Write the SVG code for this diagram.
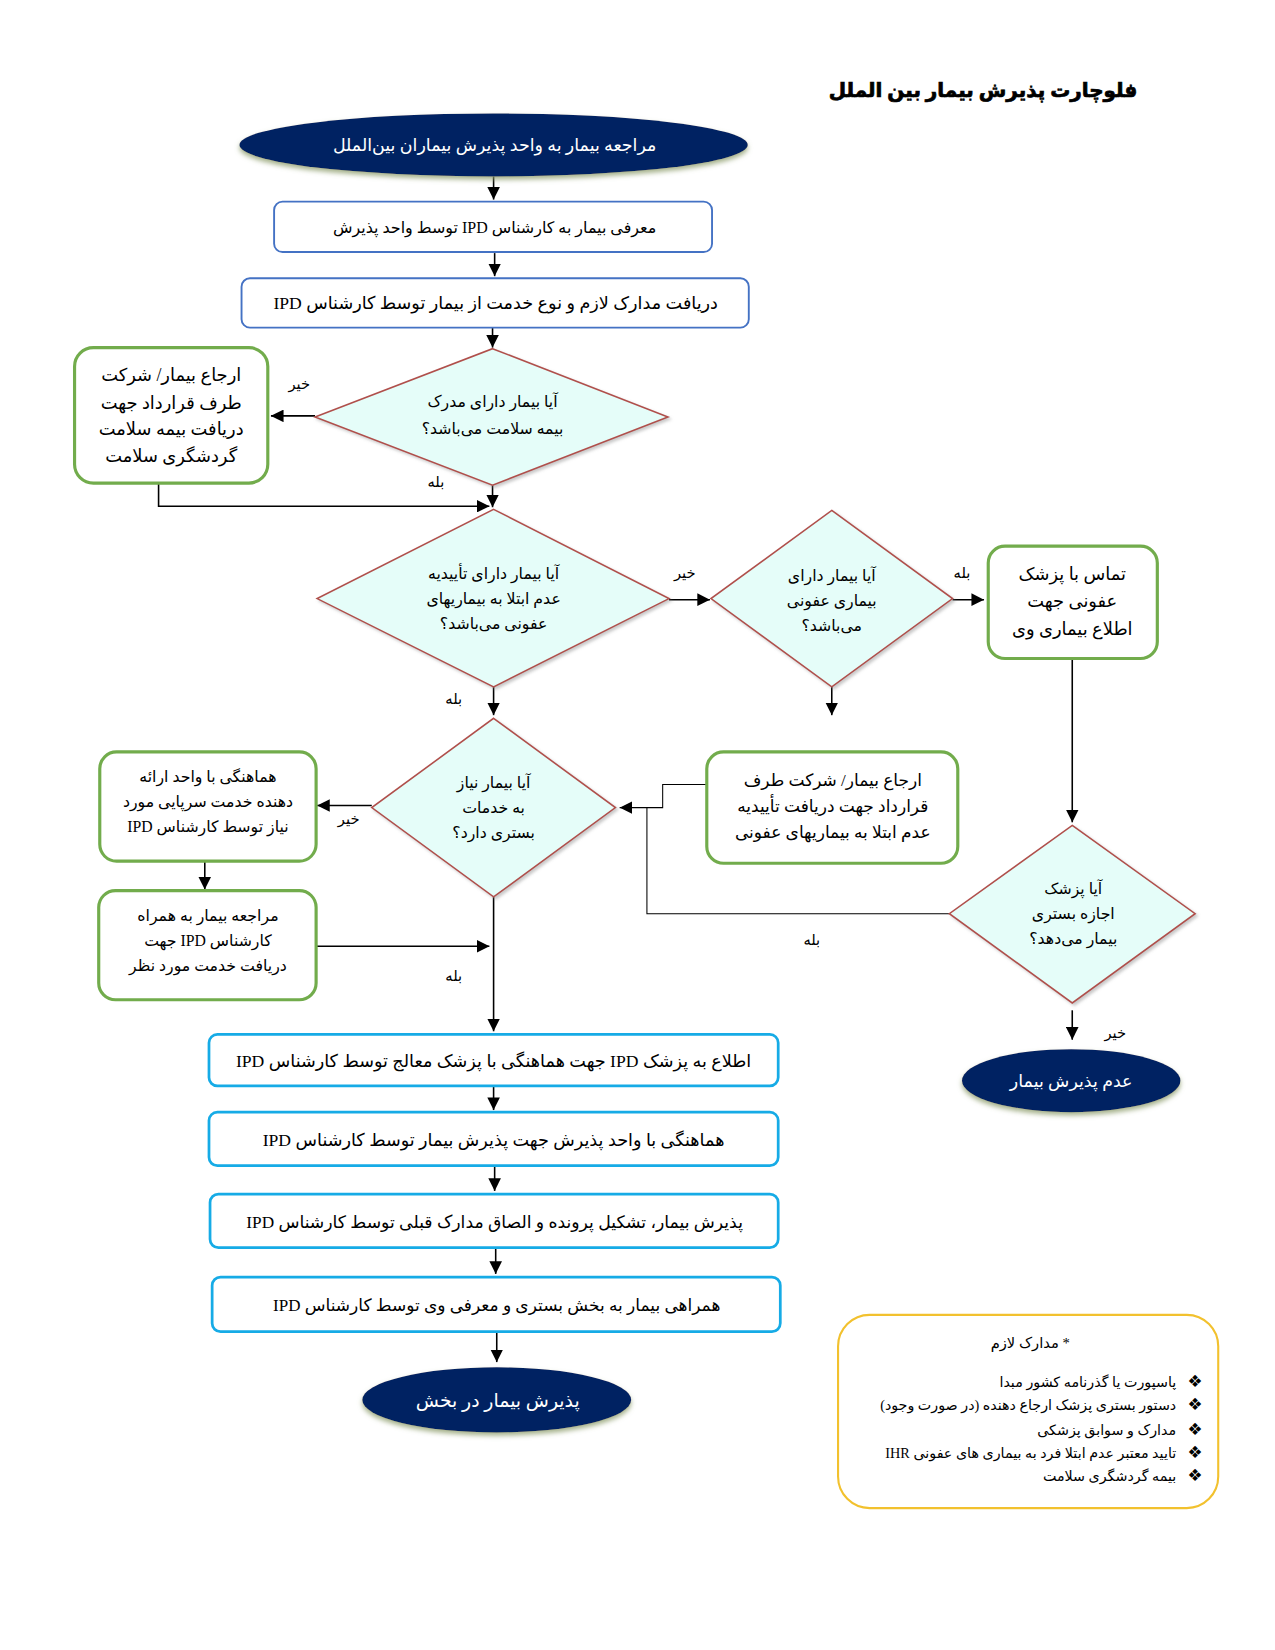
<svg xmlns="http://www.w3.org/2000/svg" width="1275" height="1650" viewBox="0 0 1275 1650">
<style>
text{font-family:'Liberation Serif','DejaVu Sans',serif;fill:#000;direction:rtl;text-anchor:middle}
.t{font-size:19px;font-weight:bold;stroke:#000;stroke-width:0.7}
.w{fill:#fff;font-size:16.6px}
.s15{font-size:15px}
.s16{font-size:15.2px}
.s17{font-size:17px}
.s18{font-size:16.8px}
.lb{font-size:14px}
.ell{fill:#062262;filter:url(#glow)}
.bb{fill:#fff;stroke:#4472C4;stroke-width:1.8}
.cb{fill:#fff;stroke:#16ABE6;stroke-width:2.6}
.gb{fill:#fff;stroke:#72AC4C;stroke-width:3}
.dm{fill:#E5FDF9;stroke:#B0504C;stroke-width:1.5;filter:url(#sh)}
.yb{fill:#fff;stroke:#F2C12E;stroke-width:2}
.c{fill:none;stroke:#000;stroke-width:1.5}
.c1{fill:none;stroke:#000;stroke-width:1}
.a{marker-end:url(#ar)}
.li{font-size:13.6px;text-anchor:start}
.bu{font-size:16px;direction:ltr}
</style>
<defs>
<marker id="ar" markerUnits="userSpaceOnUse" markerWidth="12" markerHeight="12" viewBox="0 0 10 10" refX="10" refY="5" orient="auto"><path d="M0,0 L10,5 L0,10 z" fill="#000"/></marker>
<filter id="glow" x="-10%" y="-20%" width="120%" height="150%"><feDropShadow dx="0" dy="3" stdDeviation="2.5" flood-color="#8C9C6A" flood-opacity="0.8"/></filter>
<filter id="sh" x="-10%" y="-10%" width="125%" height="125%"><feDropShadow dx="2" dy="2" stdDeviation="1.5" flood-color="#888" flood-opacity="0.45"/></filter>
</defs>
<g transform="scale(1.0502)">
<text class="t" x="936" y="92">فلوچارت پذیرش بیمار بین الملل</text>

<g id="connectors">
<path class="c a" d="M470,168 V190"/>
<path class="c a" d="M471,241 V263"/>
<path class="c a" d="M469,312 V331"/>
<path class="c a" d="M300,396 H258"/>
<path class="c a" d="M469,462 V483"/>
<path class="c a" d="M151,460 V482 H466"/>
<path class="c a" d="M637,571 H676"/>
<path class="c a" d="M907,571 H937"/>
<path class="c a" d="M792,654 V681"/>
<path class="c a" d="M1021,627 V783"/>
<path class="c a" d="M470,654 V681"/>
<path class="c a" d="M354,767 H302"/>
<path class="c a" d="M195,820 V847"/>
<path class="c a" d="M301,901 H466"/>
<path class="c a" d="M470,854 V982"/>
<path class="c1 a" d="M673,747 H631 V769 H590"/>
<path class="c1" d="M904,870 H616 V769"/>
<path class="c a" d="M1021,962 V990"/>
<path class="c a" d="M470,1035 V1057"/>
<path class="c a" d="M471,1111 V1134"/>
<path class="c a" d="M472,1189 V1213"/>
<path class="c a" d="M473,1269 V1297"/>
<text class="lb" x="285" y="370">خیر</text>
<text class="lb" x="415" y="464">بله</text>
<text class="lb" x="652" y="550">خیر</text>
<text class="lb" x="916" y="550">بله</text>
<text class="lb" x="432" y="670">بله</text>
<text class="lb" x="332" y="785">خیر</text>
<text class="lb" x="432" y="934">بله</text>
<text class="lb" x="773" y="900">بله</text>
<text class="lb" x="1062" y="988">خیر</text>
</g>

<g id="start">
<ellipse class="ell" cx="470" cy="138" rx="242" ry="30"/>
<text class="w" x="471" y="144">مراجعه بیمار به واحد پذیرش بیماران بین‌الملل</text>
</g>
<g id="box1">
<rect class="bb" x="261" y="192" width="417" height="48" rx="8"/>
<text class="s16" x="471" y="222">معرفی بیمار به کارشناس IPD توسط واحد پذیرش</text>
</g>
<g id="box2">
<rect class="bb" x="230" y="265" width="483" height="47" rx="8"/>
<text class="s18" x="472" y="294">دریافت مدارک لازم و نوع خدمت از بیمار توسط کارشناس IPD</text>
</g>
<g id="d1">
<polygon class="dm" points="469,332 636,397 469,462 300,397"/>
<text class="s15" x="469" y="388">آیا بیمار دارای مدرک</text>
<text class="s15" x="469" y="413">بیمه سلامت می‌باشد؟</text>
</g>
<g id="gA">
<rect class="gb" x="71" y="331" width="184" height="129" rx="18"/>
<text class="s17" x="163" y="363">ارجاع بیمار/ شرکت</text>
<text class="s17" x="163" y="389">طرف قرارداد جهت</text>
<text class="s17" x="163" y="414">دریافت بیمه سلامت</text>
<text class="s17" x="163" y="440">گردشگری سلامت</text>
</g>
<g id="d2">
<polygon class="dm" points="470,485 637,570 470,654 302,570"/>
<text class="s15" x="470" y="551">آیا بیمار دارای تأییدیه</text>
<text class="s15" x="470" y="575">عدم ابتلا به بیماریهای</text>
<text class="s15" x="470" y="599">عفونی می‌باشد؟</text>
</g>
<g id="d3">
<polygon class="dm" points="792,486 907,570 792,654 677,570"/>
<text class="s15" x="792" y="553">آیا بیمار دارای</text>
<text class="s15" x="792" y="577">بیماری عفونی</text>
<text class="s15" x="792" y="601">می‌باشد؟</text>
</g>
<g id="gB">
<rect class="gb" x="941" y="520" width="161" height="107" rx="16"/>
<text class="s17" x="1021" y="552">تماس با پزشک</text>
<text class="s17" x="1021" y="578">عفونی جهت</text>
<text class="s17" x="1021" y="605">اطلاع بیماری وی</text>
</g>
<g id="d4">
<polygon class="dm" points="470,684 586,769 470,854 354,769"/>
<text class="s15" x="470" y="750">آیا بیمار نیاز</text>
<text class="s15" x="470" y="774">به خدمات</text>
<text class="s15" x="470" y="798">بستری دارد؟</text>
</g>
<g id="gC">
<rect class="gb" x="95" y="716" width="206" height="104" rx="16"/>
<text class="s15" x="198" y="745">هماهنگی با واحد ارائه</text>
<text class="s15" x="198" y="768">دهنده خدمت سرپایی مورد</text>
<text class="s15" x="198" y="792">نیاز توسط کارشناس IPD</text>
</g>
<g id="gD">
<rect class="gb" x="94" y="848" width="207" height="104" rx="16"/>
<text class="s15" x="198" y="877">مراجعه بیمار به همراه</text>
<text class="s15" x="198" y="901">کارشناس IPD جهت</text>
<text class="s15" x="198" y="925">دریافت خدمت مورد نظر</text>
</g>
<g id="gE">
<rect class="gb" x="673" y="716" width="239" height="106" rx="16"/>
<text class="s16" x="793" y="748" style="font-size:16.2px">ارجاع بیمار/ شرکت طرف</text>
<text class="s16" x="793" y="773" style="font-size:16.2px">قرارداد جهت دریافت تأییدیه</text>
<text class="s16" x="793" y="798" style="font-size:16.2px">عدم ابتلا به بیماریهای عفونی</text>
</g>
<g id="d5">
<polygon class="dm" points="1021,786 1138,870 1021,955 904,870"/>
<text class="s15" x="1022" y="851">آیا پزشک</text>
<text class="s15" x="1022" y="875">اجازه بستری</text>
<text class="s15" x="1022" y="899">بیمار می‌دهد؟</text>
</g>
<g id="reject">
<ellipse class="ell" cx="1020" cy="1029" rx="104" ry="30"/>
<text class="w" x="1020" y="1035">عدم پذیرش بیمار</text>
</g>
<g id="bF">
<rect class="cb" x="199" y="985" width="542" height="49" rx="8"/>
<text class="s18" x="470" y="1016">اطلاع به پزشک IPD جهت هماهنگی با پزشک معالج توسط کارشناس IPD</text>
</g>
<g id="bG">
<rect class="cb" x="199" y="1059" width="542" height="51" rx="8"/>
<text class="s18" x="470" y="1091">هماهنگی با واحد پذیرش جهت پذیرش بیمار توسط کارشناس IPD</text>
</g>
<g id="bH">
<rect class="cb" x="200" y="1137" width="541" height="51" rx="8"/>
<text class="s18" x="471" y="1169" style="font-size:16.4px">پذیرش بیمار، تشکیل پرونده و الصاق مدارک قبلی توسط کارشناس IPD</text>
</g>
<g id="bI">
<rect class="cb" x="202" y="1216" width="541" height="52" rx="8"/>
<text class="s18" x="473" y="1248" style="font-size:16.2px">همراهی بیمار به بخش بستری و معرفی وی توسط کارشناس IPD</text>
</g>
<g id="end">
<ellipse class="ell" cx="473" cy="1333" rx="128" ry="31"/>
<text class="w" x="474" y="1340" style="font-size:18px">پذیرش بیمار در بخش</text>
</g>
<g id="docs">
<rect class="yb" x="798" y="1252" width="362" height="184" rx="30"/>
<text class="lb" x="981" y="1284">* مدارک لازم</text>
<text class="li" x="1120" y="1321">پاسپورت یا گذرنامه کشور مبدا</text>
<text class="li" x="1120" y="1343">دستور بستری پزشک ارجاع دهنده (در صورت وجود)</text>
<text class="li" x="1120" y="1366">مدارک و سوابق پزشکی</text>
<text class="li" x="1120" y="1388">تایید معتبر عدم ابتلا فرد به بیماری های عفونی IHR</text>
<text class="li" x="1120" y="1410">بیمه گردشگری سلامت</text>
<text class="bu" x="1138" y="1321">❖</text>
<text class="bu" x="1138" y="1343">❖</text>
<text class="bu" x="1138" y="1366">❖</text>
<text class="bu" x="1138" y="1388">❖</text>
<text class="bu" x="1138" y="1410">❖</text>
</g>
</g>
</svg>
